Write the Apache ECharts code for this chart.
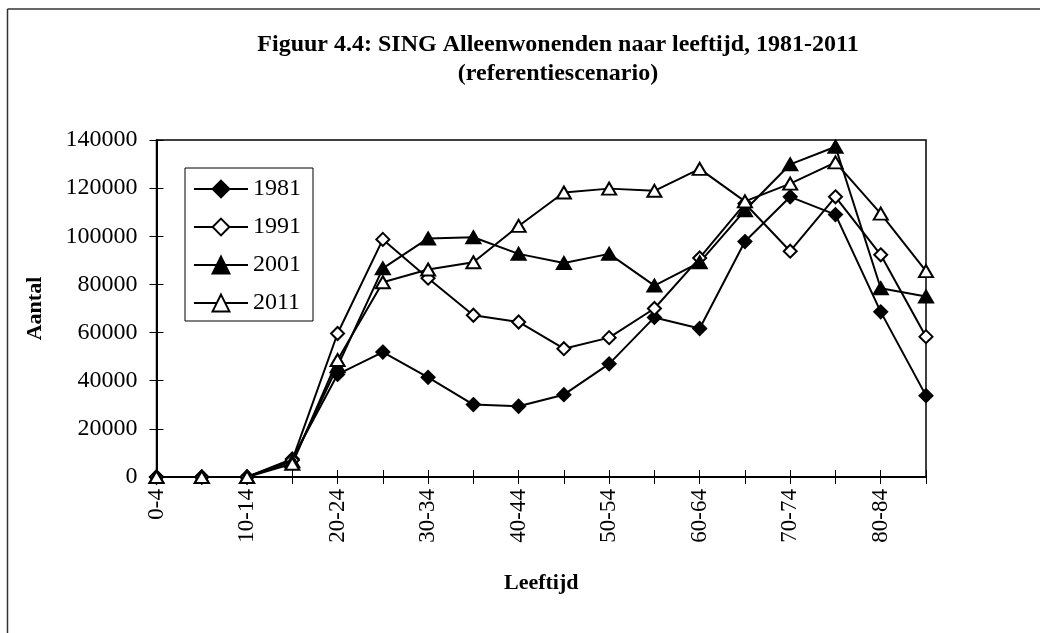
<!DOCTYPE html>
<html>
<head>
<meta charset="utf-8">
<script src="https://cdn.jsdelivr.net/npm/echarts@6/dist/echarts.min.js"></script>
<style>
  html, body { margin: 0; padding: 0; background: #fff; }
  #chart { width: 1040px; height: 633px; }
</style>
</head>
<body>
<div id="chart"></div>
<script>
// leeftijdsklassen
const ageGroups = ['0-4', '5-9', '10-14', '15-19', '20-24', '25-29', '30-34', '35-39', '40-44',
  '45-49', '50-54', '55-59', '60-64', '65-69', '70-74', '75-79', '80-84', '85+'];

// aantal alleenwonenden per jaar
const y1981 = [0, 0, 0, 7500, 42600, 51900, 41400, 30100, 29400, 34200, 47000, 66300, 61700, 97800, 116400, 109000, 68600, 33800];
const y1991 = [0, 0, 0, 7000, 59600, 98700, 82600, 67200, 64400, 53300, 57900, 70000, 91000, 113600, 93800, 116400, 92300, 58300];
const y2001 = [0, 0, 0, 6500, 46000, 86700, 99100, 99600, 92700, 88900, 92700, 79500, 89200, 110800, 129900, 137200, 78400, 75000];
const y2011 = [0, 0, 0, 5500, 48600, 80900, 86200, 89200, 104300, 118200, 119800, 118900, 128000, 114500, 121900, 130700, 109400, 85500];

const FONT = '"Liberation Serif", "Times New Roman", serif';

function mkSeries(name, data, symbol, size, filled) {
  return {
    name: name,
    type: 'line',
    data: data,
    symbol: symbol,
    symbolSize: size,
    showAllSymbol: true,
    lineStyle: { color: '#000', width: 2 },
    itemStyle: {
      color: filled ? '#000' : '#fff',
      borderColor: '#000',
      borderWidth: 2
    },
    emphasis: { disabled: true },
    animation: false
  };
}

const chart = echarts.init(document.getElementById('chart'));
chart.setOption({
  backgroundColor: '#fff',
  animation: false,
  graphic: [
    { type: 'line', shape: { x1: 7.5, y1: 9, x2: 1040, y2: 9 }, style: { stroke: '#333', lineWidth: 1.5 } },
    { type: 'line', shape: { x1: 7.5, y1: 9, x2: 7.5, y2: 633 }, style: { stroke: '#333', lineWidth: 1.5 } },
    {
      type: 'text', x: 558, y: 45,
      style: { text: 'Figuur 4.4: SING Alleenwonenden naar leeftijd, 1981-2011', font: 'bold 24px ' + FONT, fill: '#000', textAlign: 'center', textVerticalAlign: 'middle' }
    },
    {
      type: 'text', x: 558, y: 74,
      style: { text: '(referentiescenario)', font: 'bold 24px ' + FONT, fill: '#000', textAlign: 'center', textVerticalAlign: 'middle' }
    }
  ],
  legend: {
    orient: 'vertical',
    left: 185,
    top: 168,
    data: ['1981', '1991', '2001', '2011'],
    backgroundColor: '#fff',
    borderColor: '#000',
    borderWidth: 1,
    borderRadius: 0,
    padding: [9, 12, 6, 8],
    itemWidth: 54,
    itemHeight: 21,
    itemGap: 14,
    textStyle: { fontFamily: FONT, fontSize: 24, color: '#000', lineHeight: 24 },
    selectedMode: false
  },
  grid: {
    left: 156.5,
    right: 114,
    top: 140,
    bottom: 156,
    show: true,
    borderColor: '#000',
    borderWidth: 1.5,
    backgroundColor: 'transparent'
  },
  xAxis: [
    {
      type: 'category',
      data: ageGroups,
      boundaryGap: false,
      name: 'Leeftijd',
      nameLocation: 'middle',
      nameGap: 95,
      nameTextStyle: { fontFamily: FONT, fontSize: 22, fontWeight: 'bold', color: '#000' },
      axisLine: { lineStyle: { color: '#000', width: 2 } },
      axisTick: { show: true, interval: 0, length: 7, lineStyle: { color: '#000', width: 1 } },
      axisLabel: { interval: 1, rotate: 90, margin: 12, fontFamily: FONT, fontSize: 23, color: '#000' },
      splitLine: { show: false }
    },
    {
      type: 'category',
      data: ageGroups,
      boundaryGap: false,
      position: 'bottom',
      axisLine: { show: false },
      axisTick: { show: true, inside: true, interval: 0, length: 7, lineStyle: { color: '#000', width: 1 } },
      axisLabel: { show: false },
      splitLine: { show: false }
    }
  ],
  yAxis: [
    {
      type: 'value',
      min: 0,
      max: 140000,
      interval: 20000,
      name: 'Aantal',
      nameLocation: 'middle',
      nameGap: 110,
      nameTextStyle: { fontFamily: FONT, fontSize: 22, fontWeight: 'bold', color: '#000' },
      axisLine: { show: true, lineStyle: { color: '#000', width: 2 } },
      axisTick: { show: true, length: 7, lineStyle: { color: '#000', width: 1 } },
      axisLabel: { margin: 19, fontFamily: FONT, fontSize: 24, color: '#000', formatter: v => String(v) },
      splitLine: { show: false }
    },
    {
      type: 'value',
      min: 0,
      max: 140000,
      interval: 20000,
      position: 'left',
      axisLine: { show: false },
      axisTick: { show: true, inside: true, length: 7, lineStyle: { color: '#000', width: 1 } },
      axisLabel: { show: false },
      splitLine: { show: false }
    }
  ],
  series: [
    mkSeries('1981', y1981, 'diamond', 13, true),
    mkSeries('1991', y1991, 'diamond', 13, false),
    mkSeries('2001', y2001, 'triangle', [14, 12], true),
    mkSeries('2011', y2011, 'triangle', [14, 12], false)
  ]
});
</script>
</body>
</html>
